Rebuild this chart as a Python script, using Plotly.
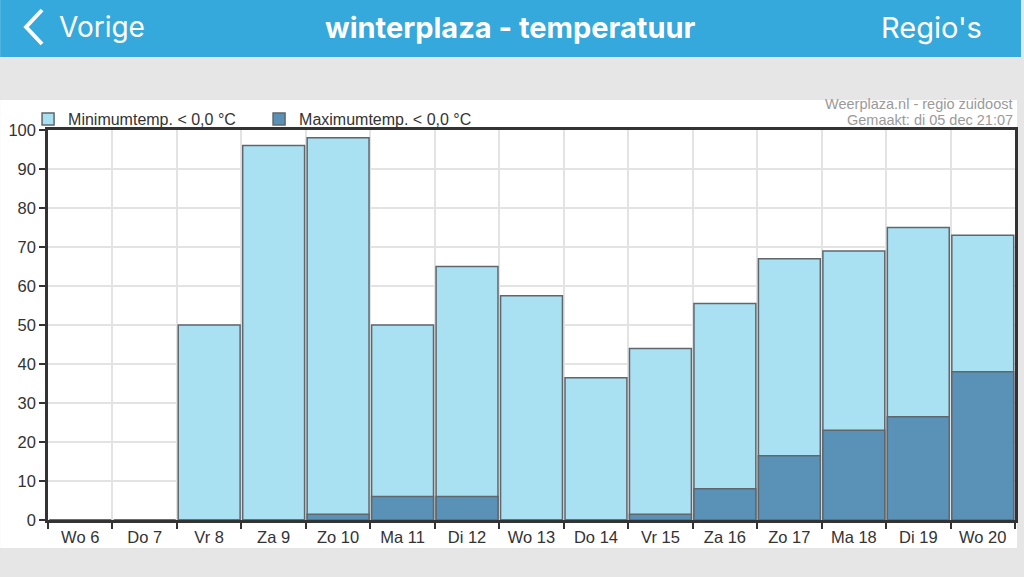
import plotly.graph_objects as go

# dagen en kansen (%) uit de grafiek
dagen = ['Wo 6', 'Do 7', 'Vr 8', 'Za 9', 'Zo 10', 'Ma 11', 'Di 12', 'Wo 13',
         'Do 14', 'Vr 15', 'Za 16', 'Zo 17', 'Ma 18', 'Di 19', 'Wo 20']
min_temp = [0, 0, 50, 96, 98, 50, 65, 57.5, 36.5, 44, 55.5, 67, 69, 75, 73]
max_temp = [0, 0, 0, 0, 1.5, 6, 6, 0, 0, 1.5, 8, 16.5, 23, 26.5, 38]

W, H = 1024, 577
L, R, T, B = 48, 6, 130, 57
pw, ph = W - L - R, H - T - B


def px(x):
    return (x - L) / pw


def py(y):
    return (H - B - y) / ph


fig = go.Figure()
fig.add_trace(go.Bar(x=dagen, y=min_temp, name='Minimumtemp. < 0,0 °C',
                     marker=dict(color='#A9E1F3', line=dict(color='#5F676D', width=1.5))))
fig.add_trace(go.Bar(x=dagen, y=max_temp, name='Maximumtemp. < 0,0 °C',
                     marker=dict(color='#5A92B7', line=dict(color='#5F676D', width=1.5))))

shapes = [
    # witte kaart
    dict(type='rect', xref='paper', yref='paper', x0=px(0), x1=px(1020), y0=py(548), y1=py(100),
         fillcolor='white', line=dict(width=0), layer='below'),
    # blauwe kopbalk
    dict(type='rect', xref='paper', yref='paper', x0=px(0), x1=px(W), y0=py(57), y1=py(0),
         fillcolor='#35A9DC', line=dict(width=0), layer='below'),
    # terug-pijl
    dict(type='path', xref='paper', yref='paper',
         path='M %f %f L %f %f L %f %f' % (px(42), py(10), px(26), py(27), px(42), py(44)),
         line=dict(color='white', width=4)),
]

ann = [
    dict(text='Vorige', x=px(57), y=py(27), xanchor='left', yanchor='middle',
         font=dict(size=28, color='white', family='Inter')),
    dict(text='<b>winterplaza - temperatuur</b>', x=px(512), y=py(27), xanchor='center', yanchor='middle',
         font=dict(size=29, color='white', family='Inter')),
    dict(text="Regio's", x=px(987), y=py(27), xanchor='right', yanchor='middle',
         font=dict(size=29, color='white', family='Inter')),
    dict(text='Weerplaza.nl - regio zuidoost', x=px(1018), y=py(104),
         xanchor='right', yanchor='middle',
         font=dict(size=14.5, color='#9A9A9A', family='Liberation Sans')),
    dict(text='Gemaakt: di 05 dec 21:07', x=px(1018), y=py(120),
         xanchor='right', yanchor='middle',
         font=dict(size=14.5, color='#9A9A9A', family='Liberation Sans')),
]
for a in ann:
    a.update(xref='paper', yref='paper', showarrow=False)

fig.update_layout(
    width=W, height=H,
    margin=dict(l=L, r=R, t=T, b=B, pad=0),
    paper_bgcolor='#E6E6E6', plot_bgcolor='white',
    barmode='overlay', bargap=0.04,
    font=dict(family='Liberation Sans', size=16.5, color='#333333'),
    shapes=shapes, annotations=ann,
    showlegend=True,
    legend=dict(orientation='h', x=px(28), y=py(119), xanchor='left', yanchor='middle',
                bgcolor='rgba(0,0,0,0)', font=dict(size=16, color='#333333'),
                entrywidth=186, entrywidthmode='pixels', itemclick=False),
)
fig.update_xaxes(type='category', tickson='boundaries', ticks='outside', ticklen=6, tickwidth=2,
                 tickcolor='#333333', showline=True, linecolor='#333333', linewidth=2.5, mirror=True,
                 showgrid=True, gridcolor='#E3E3E3', gridwidth=1.5, fixedrange=True)
fig.update_yaxes(range=[0, 100], dtick=10, ticks='outside', ticklen=6, tickwidth=2,
                 tickcolor='#333333', showline=True, linecolor='#333333', linewidth=2.5, mirror=True,
                 showgrid=True, gridcolor='#E3E3E3', gridwidth=1.5, zeroline=False, fixedrange=True)

# body-marge van de pagina weghalen
fig.write_html('out.html', config={'displayModeBar': False},
               post_script="document.body.style.margin='0';")
